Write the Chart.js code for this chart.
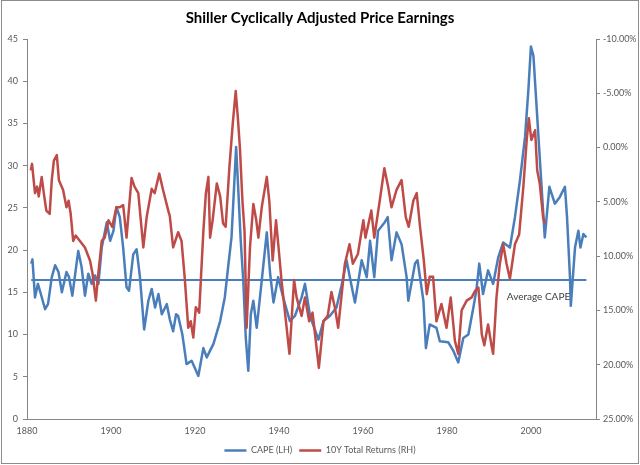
<!DOCTYPE html>
<html>
<head>
<meta charset="utf-8">
<script src="https://cdn.jsdelivr.net/npm/chart.js@4"></script>
<style>
  html, body { margin: 0; padding: 0; background: #fff; }
</style>
</head>
<body>
<canvas id="capeChart" width="640" height="465"></canvas>
<script>
// CAPE (left axis)
const capeYears = [1881.0, 1881.3, 1881.9, 1882.6, 1883.3, 1884.3, 1885.0, 1885.9, 1886.7, 1887.5,
    1888.3, 1889.4, 1890.0, 1890.8, 1892.2, 1893.0, 1893.8, 1894.6, 1895.4, 1896.2,
    1897.0, 1897.8, 1899.0, 1899.8, 1900.6, 1901.3, 1902.1, 1902.9, 1903.7, 1904.3,
    1905.3, 1906.1, 1906.9, 1907.9, 1908.9, 1909.7, 1910.5, 1911.3, 1912.1, 1913.3,
    1914.0, 1914.8, 1915.5, 1916.0, 1917.0, 1918.0, 1919.2, 1920.0, 1920.8, 1922.0,
    1922.8, 1924.4, 1926.0, 1927.1, 1927.9, 1928.7, 1929.8, 1930.2, 1930.9, 1931.5,
    1932.1, 1932.7, 1933.3, 1933.9, 1934.7, 1935.9, 1937.1, 1937.9, 1938.7, 1939.8,
    1941.0, 1942.6, 1943.8, 1945.4, 1946.2, 1947.4, 1949.4, 1950.6, 1952.1, 1953.7,
    1955.0, 1956.1, 1957.2, 1958.1, 1959.7, 1960.9, 1961.7, 1962.7, 1963.6, 1965.2,
    1965.9, 1966.8, 1968.0, 1969.2, 1970.4, 1970.8, 1972.4, 1973.0, 1974.4, 1975.0,
    1975.9, 1977.5, 1978.3, 1980.3, 1981.5, 1982.7, 1983.9, 1985.1, 1986.3, 1987.0,
    1987.7, 1988.6, 1989.8, 1991.0, 1992.2, 1993.4, 1995.0, 1996.2, 1997.4, 1998.6,
    1999.4, 2000.0, 2000.6, 2001.2, 2002.1, 2003.3, 2004.4, 2005.7, 2006.9, 2008.1,
    2008.6, 2009.3, 2009.5, 2010.5, 2011.3, 2011.8, 2012.5, 2013.2];
const capeValues = [18.4, 18.9, 14.4, 16.0, 14.8, 13.0, 13.6, 16.8, 18.2, 17.4,
    15.0, 17.4, 16.8, 14.6, 19.9, 18.0, 14.6, 17.2, 16.0, 17.0,
    16.0, 20.3, 23.3, 21.1, 22.3, 25.1, 23.9, 20.3, 15.6, 15.2,
    19.5, 20.1, 16.8, 10.6, 14.0, 15.4, 13.2, 14.8, 12.4, 13.6,
    11.8, 10.4, 12.4, 12.2, 10.0, 6.5, 6.9, 6.0, 5.1, 8.4,
    7.3, 8.9, 11.6, 14.4, 18.0, 21.5, 32.2, 28.3, 21.1, 16.4,
    9.6, 5.7, 12.4, 14.0, 10.8, 16.4, 22.1, 17.2, 13.8, 16.8,
    14.4, 11.6, 12.2, 14.4, 16.0, 12.2, 9.4, 11.6, 12.2, 13.2,
    16.0, 18.8, 16.0, 13.8, 18.8, 16.8, 21.1, 16.8, 22.3, 23.3,
    23.9, 18.8, 22.1, 20.7, 16.8, 14.0, 18.4, 18.8, 14.0, 8.4,
    11.2, 10.8, 9.2, 9.1, 8.1, 6.7, 9.6, 10.0, 13.2, 15.2,
    18.4, 14.8, 17.6, 16.0, 19.1, 20.9, 20.3, 23.9, 28.3, 33.4,
    39.0, 44.1, 43.0, 38.2, 31.0, 21.5, 27.5, 25.5, 26.3, 27.5,
    23.9, 16.8, 13.4, 20.3, 22.3, 20.3, 21.9, 21.5];

// 10Y total returns, % (right axis, reversed)
const returnYears = [1880.9, 1881.2, 1881.9, 1882.4, 1882.8, 1883.5, 1884.0, 1884.6, 1885.4, 1885.9,
    1886.4, 1887.1, 1887.6, 1888.6, 1889.4, 1889.9, 1890.4, 1891.0, 1891.6, 1892.6,
    1893.8, 1895.0, 1895.6, 1896.4, 1896.9, 1897.8, 1898.5, 1899.4, 1900.3, 1901.3,
    1902.1, 1902.9, 1903.7, 1904.9, 1905.6, 1906.5, 1907.7, 1908.5, 1909.7, 1910.4,
    1911.5, 1912.4, 1913.7, 1914.0, 1914.8, 1916.0, 1916.8, 1917.6, 1918.4, 1919.0,
    1919.6, 1920.2, 1921.0, 1922.0, 1922.6, 1923.2, 1923.6, 1924.2, 1925.2, 1926.0,
    1926.7, 1927.3, 1928.2, 1929.0, 1929.7, 1930.2, 1930.7, 1931.3, 1931.8, 1932.3,
    1933.1, 1933.9, 1934.6, 1935.1, 1935.9, 1937.1, 1937.7, 1938.5, 1939.3, 1939.9,
    1940.6, 1941.3, 1942.5, 1943.6, 1944.2, 1945.4, 1946.2, 1947.2, 1948.0, 1949.5,
    1950.6, 1951.6, 1952.5, 1953.3, 1954.1, 1955.7, 1956.8, 1957.6, 1958.8, 1960.1,
    1960.6, 1962.0, 1962.7, 1964.0, 1965.1, 1966.0, 1966.8, 1968.0, 1969.2, 1970.2,
    1970.9, 1972.0, 1972.8, 1973.6, 1974.5, 1975.2, 1975.9, 1976.7, 1977.5, 1978.7,
    1979.9, 1980.9, 1981.9, 1982.7, 1983.5, 1984.7, 1985.9, 1986.7, 1987.5, 1988.3,
    1988.9, 1989.8, 1990.6, 1991.0, 1991.8, 1992.6, 1993.4, 1994.2, 1995.0, 1996.2,
    1997.2, 1998.2, 1999.0, 1999.5, 2000.1, 2001.0, 2001.5, 2002.1, 2002.9, 2003.3];
const returnValues = [2.1, 1.5, 4.2, 3.6, 4.5, 2.7, 4.2, 5.8, 6.1, 3.0,
    1.2, 0.7, 3.0, 3.9, 5.5, 4.9, 6.1, 8.6, 8.1, 8.6,
    9.2, 10.4, 11.6, 14.1, 11.9, 8.6, 8.3, 6.7, 7.3, 5.5,
    5.5, 5.3, 8.3, 2.8, 3.6, 4.2, 9.2, 6.4, 3.8, 4.2,
    2.4, 3.9, 5.9, 6.3, 9.2, 7.8, 8.6, 12.2, 16.6, 16.0,
    17.5, 14.7, 15.2, 7.7, 4.2, 2.7, 8.3, 6.7, 3.3, 4.5,
    7.0, 7.3, 1.8, -2.2, -5.2, -2.8, 0.0, 4.9, 7.7, 16.6,
    9.2, 5.2, 6.7, 8.3, 5.5, 2.7, 4.9, 10.4, 6.7, 9.2,
    12.2, 14.7, 19.0, 12.2, 13.8, 15.5, 13.8, 16.0, 15.2, 20.3,
    16.0, 15.5, 13.3, 14.7, 16.6, 10.7, 8.9, 10.7, 9.8, 6.7,
    8.3, 5.8, 8.3, 4.9, 1.9, 3.6, 5.5, 3.9, 3.0, 6.4,
    7.3, 4.9, 4.2, 7.3, 10.4, 13.5, 11.9, 11.9, 16.0, 14.4,
    16.6, 13.8, 17.8, 19.0, 15.0, 14.1, 13.8, 13.2, 12.9, 17.2,
    18.2, 16.3, 18.2, 19.0, 13.8, 10.7, 8.9, 10.7, 12.1, 8.9,
    8.0, 3.6, -0.7, -2.7, -0.7, -1.6, 2.1, 3.3, 6.4, 7.0];

// Average CAPE line
const avgCape = 16.47;
const avgYears = [1881.0, 2013.2];
const avgLabel = 'Average CAPE';
const avgLabelYear = 2001.8;
const avgLabelValue = 14.5;

const blue = '#4a7ebb';
const red = '#be4b48';
const axisGrey = '#868686';
const textGrey = '#595959';

const toPoints = (xs, ys) => xs.map((x, i) => ({ x: x, y: ys[i] }));

const frame = {
    id: 'frame',
    beforeDraw(chart) {
        const c = chart.ctx;
        c.save();
        c.fillStyle = '#fff';
        c.fillRect(0, 0, chart.width, chart.height);
        c.strokeStyle = '#8c8c8c';
        c.lineWidth = 1;
        c.strokeRect(1.5, 0.5, chart.width - 3, chart.height - 2);
        c.restore();
    },
    afterDatasetsDraw(chart) {
        const c = chart.ctx;
        const xs = chart.scales.x, ys = chart.scales.y;
        c.save();
        c.font = '10px Lato';
        c.fillStyle = '#404040';
        c.textAlign = 'center';
        c.textBaseline = 'middle';
        c.fillText(avgLabel, xs.getPixelForValue(avgLabelYear), ys.getPixelForValue(avgLabelValue));
        c.restore();
    }
};

const ctx = document.getElementById('capeChart').getContext('2d');

new Chart(ctx, {
    type: 'line',
    data: {
        datasets: [
            {
                label: 'CAPE (LH)',
                data: toPoints(capeYears, capeValues),
                borderColor: blue,
                backgroundColor: blue,
                borderWidth: 2.5,
                yAxisID: 'y',
                order: 3
            },
            {
                label: '10Y Total Returns (RH)',
                data: toPoints(returnYears, returnValues),
                borderColor: red,
                backgroundColor: red,
                borderWidth: 2.5,
                yAxisID: 'y2',
                order: 1
            },
            {
                label: 'avg',
                data: toPoints(avgYears, avgYears.map(() => avgCape)),
                borderColor: blue,
                borderWidth: 2,
                yAxisID: 'y',
                order: 2
            }
        ]
    },
    options: {
        responsive: false,
        animation: false,
        devicePixelRatio: 1,
        elements: {
            point: { radius: 0, hoverRadius: 0 },
            line: { tension: 0, borderJoinStyle: 'round' }
        },
        layout: { padding: { left: 0, right: 0, top: 0, bottom: 0 } },
        scales: {
            x: {
                type: 'linear',
                min: 1880,
                max: 2015.5,
                grid: { display: false, drawTicks: false },
                border: { color: axisGrey, width: 1 },
                ticks: {
                    stepSize: 20,
                    includeBounds: false,
                    padding: 7,
                    maxRotation: 0,
                    color: textGrey,
                    font: { family: 'Lato', size: 9 },
                    callback: v => (v % 20 === 0 ? String(v) : '')
                },
                afterFit: s => { s.height = 20; }
            },
            y: {
                position: 'left',
                min: 0,
                max: 45,
                grid: { drawOnChartArea: false, drawTicks: true, tickLength: 4, color: axisGrey },
                border: { color: axisGrey, width: 1 },
                ticks: {
                    stepSize: 5,
                    padding: 5,
                    color: textGrey,
                    font: { family: 'Lato', size: 9 }
                },
                afterFit: s => { s.width = 27; }
            },
            y2: {
                position: 'right',
                min: -10,
                max: 25,
                reverse: true,
                grid: { drawOnChartArea: false, drawTicks: true, tickLength: 4, color: axisGrey },
                border: { color: axisGrey, width: 1 },
                ticks: {
                    stepSize: 5,
                    padding: 3,
                    color: textGrey,
                    font: { family: 'Lato', size: 9 },
                    callback: v => v.toFixed(2) + '%'
                },
                afterFit: s => { s.width = 44; }
            }
        },
        plugins: {
            title: {
                display: true,
                text: 'Shiller Cyclically Adjusted Price Earnings',
                color: '#000',
                font: { family: 'Lato', size: 15, weight: 'bold' },
                padding: { top: 9, bottom: 12 }
            },
            legend: {
                position: 'bottom',
                labels: {
                    usePointStyle: true,
                    pointStyle: 'line',
                    pointStyleWidth: 22,
                    padding: 7,
                    color: textGrey,
                    font: { family: 'Lato', size: 9 },
                    filter: item => item.text !== 'avg',
                    sort: (a, b) => a.datasetIndex - b.datasetIndex
                }
            },
            tooltip: { enabled: false }
        }
    },
    plugins: [frame]
});
</script>
</body>
</html>
